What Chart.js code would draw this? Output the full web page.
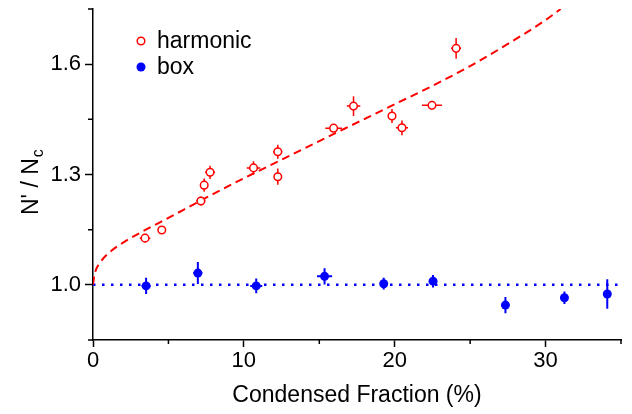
<!DOCTYPE html>
<html lang="en">
  <head>
    <meta charset="UTF-8">
    <title>N' / Nc vs Condensed Fraction</title>
    <script src="https://cdn.jsdelivr.net/npm/chart.js@4.4.7/dist/chart.umd.min.js"></script>
    <style>
    html, body { margin: 0; padding: 0; background: #fff; }
    #wrap { width: 632px; height: 414px; }
    </style>
  </head>
  <body>
    <div id="wrap"><canvas id="chart" width="632" height="414"></canvas></div>
    <script>
    // harmonic trap (open red circles)
    const harmX    = [3.45, 4.56, 7.15, 7.37, 7.76, 10.64, 12.25, 12.25, 15.95, 17.27, 19.82, 20.48, 22.47, 24.07];
    const harmY    = [1.127, 1.149, 1.228, 1.271, 1.306, 1.318, 1.362, 1.294, 1.426, 1.486, 1.459, 1.427, 1.488, 1.643];
    const harmXErr = [0.35, 0.1, 0.3, 0.1, 0.33, 0.45, 0.3, 0.15, 0.55, 0.45, 0.15, 0.4, 0.66, 0.33];
    const harmYErr = [0.012, 0.005, 0.012, 0.018, 0.018, 0.018, 0.019, 0.022, 0.01, 0.027, 0.019, 0.02, 0.004, 0.028];

    // box trap (filled blue circles)
    const boxX    = [3.52, 6.95, 10.82, 15.35, 19.27, 22.54, 27.34, 31.25, 34.09];
    const boxY    = [0.997, 1.032, 0.997, 1.023, 1.003, 1.01, 0.945, 0.965, 0.975];
    const boxXErr = [0.3, 0.3, 0.4, 0.5, 0.2, 0.2, 0.1, 0.1, 0.25];
    const boxYErr = [0.022, 0.03, 0.02, 0.022, 0.016, 0.017, 0.022, 0.017, 0.04];

    // theory curves
    const fitX = [0, 0.1, 0.5, 1, 2, 3.5, 5, 7, 10, 12.5, 15, 17.5, 20, 22.5, 25, 27.5, 30, 31];
    const fitY = [1.0, 1.028, 1.062, 1.085, 1.115, 1.15, 1.182, 1.226, 1.29, 1.34, 1.391, 1.441, 1.491, 1.541, 1.595, 1.655, 1.72, 1.75];
    const flatX = [0, 35];
    const flatY = [1.0, 1.0];

    // axes
    const xTicks = [0, 5, 10, 15, 20, 25, 30, 35];
    const xTickLabels = ['0', '', '10', '', '20', '', '30', ''];
    const yTicks = [0.85, 1.0, 1.15, 1.3, 1.45, 1.6, 1.75];
    const yTickLabels = ['', '1.0', '', '1.3', '', '1.6', ''];

    const RED = '#ff0000';
    const BLUE = '#0000ff';
    const FONT = "'Liberation Sans', Arial, Helvetica, sans-serif";

    const pts = (xs, ys) => xs.map((x, i) => ({ x: x, y: ys[i] }));

    const errorBars = {
      id: 'errorBars',
      beforeDatasetsDraw(chart) {
        const { ctx, scales: { x, y } } = chart;
        const sets = [
          [harmX, harmY, harmXErr, harmYErr, RED, 1.5],
          [boxX, boxY, boxXErr, boxYErr, BLUE, 2]
        ];
        ctx.save();
        sets.forEach(([xs, ys, xe, ye, col, w]) => {
          ctx.strokeStyle = col;
          ctx.lineWidth = w;
          xs.forEach((v, i) => {
            const px = x.getPixelForValue(v), py = y.getPixelForValue(ys[i]);
            ctx.beginPath();
            ctx.moveTo(x.getPixelForValue(v - xe[i]), py);
            ctx.lineTo(x.getPixelForValue(v + xe[i]), py);
            ctx.moveTo(px, y.getPixelForValue(ys[i] - ye[i]));
            ctx.lineTo(px, y.getPixelForValue(ys[i] + ye[i]));
            ctx.stroke();
          });
        });
        ctx.restore();
      }
    };

    const extras = {
      id: 'extras',
      afterDraw(chart) {
        const { ctx, scales: { x, y } } = chart;
        ctx.save();
        // minor ticks
        ctx.strokeStyle = '#000';
        ctx.lineWidth = 1.5;
        ctx.beginPath();
        xTicks.forEach((v, i) => {
          if (xTickLabels[i]) return;
          const px = x.getPixelForValue(v);
          ctx.moveTo(px, chart.chartArea.bottom);
          ctx.lineTo(px, chart.chartArea.bottom + 4);
        });
        yTicks.forEach((v, i) => {
          if (yTickLabels[i]) return;
          const py = y.getPixelForValue(v);
          ctx.moveTo(chart.chartArea.left, py);
          ctx.lineTo(chart.chartArea.left - 5, py);
        });
        ctx.stroke();

        // y title with subscript
        ctx.fillStyle = '#000';
        ctx.translate(38, 215);
        ctx.rotate(-Math.PI / 2);
        ctx.textAlign = 'left';
        ctx.textBaseline = 'alphabetic';
        ctx.font = '23px ' + FONT;
        const main = "N' / N";
        ctx.fillText(main, 0, 0);
        const w = ctx.measureText(main).width;
        ctx.font = '16px ' + FONT;
        ctx.fillText('c', w + 1, 5);
        ctx.restore();

        // legend
        ctx.save();
        ctx.font = '23px ' + FONT;
        ctx.textBaseline = 'middle';
        ctx.lineWidth = 1.5;
        ctx.strokeStyle = RED;
        ctx.fillStyle = '#fff';
        ctx.beginPath();
        ctx.arc(141, 41, 3.8, 0, Math.PI * 2);
        ctx.fill();
        ctx.stroke();
        ctx.fillStyle = BLUE;
        ctx.beginPath();
        ctx.arc(141, 67, 4.5, 0, Math.PI * 2);
        ctx.fill();
        ctx.fillStyle = '#000';
        ctx.fillText('harmonic', 157, 42);
        ctx.fillText('box', 157, 68);
        ctx.restore();
      }
    };

    const ctx = document.getElementById('chart').getContext('2d');
    const chart = new Chart(ctx, {
      type: 'scatter',
      data: {
        datasets: [
          {
            label: 'harmonic',
            data: pts(harmX, harmY),
            pointRadius: 3.8,
            pointBorderWidth: 1.5,
            pointBorderColor: RED,
            pointBackgroundColor: '#fff'
          },
          {
            label: 'box',
            data: pts(boxX, boxY),
            pointRadius: 4.5,
            pointBorderWidth: 0,
            pointBackgroundColor: BLUE
          },
          {
            label: 'harmonic theory',
            data: pts(fitX, fitY),
            showLine: true,
            pointRadius: 0,
            borderColor: RED,
            borderWidth: 2,
            borderDash: [8, 5],
            cubicInterpolationMode: 'monotone'
          },
          {
            label: 'box theory',
            data: pts(flatX, flatY),
            showLine: true,
            pointRadius: 0,
            borderColor: BLUE,
            borderWidth: 2.5,
            borderDash: [2.5, 6.5]
          }
        ]
      },
      options: {
        responsive: false,
        animation: false,
        layout: { padding: { top: 9, right: 11, left: 0, bottom: 0 } },
        plugins: {
          legend: { display: false },
          tooltip: { enabled: false }
        },
        scales: {
          x: {
            type: 'linear',
            min: 0,
            max: 35,
            afterBuildTicks: (s) => { s.ticks = xTicks.map(v => ({ value: v })); },
            afterFit: (s) => { s.height = 74; s.paddingLeft = 0; s.paddingRight = 0; },
            grid: {
              drawOnChartArea: false,
              tickLength: 7,
              tickWidth: 1.5,
              tickColor: (c) => (xTickLabels[c.index] ? '#000' : 'rgba(0,0,0,0)')
            },
            border: { display: true, color: '#000', width: 1.5 },
            ticks: {
              autoSkip: false,
              maxRotation: 0,
              padding: 1,
              color: '#000',
              font: { family: FONT, size: 22 },
              callback: (v, i) => xTickLabels[i]
            },
            title: {
              display: true,
              text: 'Condensed Fraction (%)',
              color: '#000',
              font: { family: FONT, size: 23 },
              padding: { top: 0, bottom: 5 }
            }
          },
          y: {
            min: 0.85,
            max: 1.75,
            afterBuildTicks: (s) => { s.ticks = yTicks.map(v => ({ value: v })); },
            afterFit: (s) => { s.width = 93; s.paddingTop = 0; s.paddingBottom = 0; },
            grid: {
              drawOnChartArea: false,
              tickLength: 8,
              tickWidth: 1.5,
              tickColor: (c) => (yTickLabels[c.index] ? '#000' : 'rgba(0,0,0,0)')
            },
            border: { display: true, color: '#000', width: 1.5 },
            ticks: {
              autoSkip: false,
              padding: 4,
              color: '#000',
              font: { family: FONT, size: 22 },
              callback: (v, i) => yTickLabels[i]
            }
          }
        }
      },
      plugins: [errorBars, extras]
    });
    </script>
  </body>
</html>
